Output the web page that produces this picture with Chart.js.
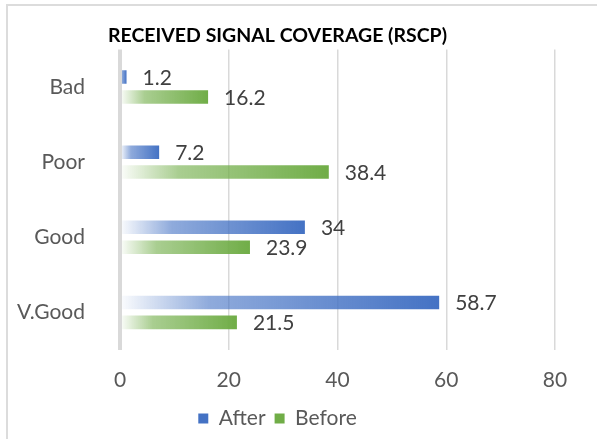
<!DOCTYPE html>
<html>
<head>
<meta charset="utf-8">
<script src="https://cdn.jsdelivr.net/npm/chart.js@4/dist/chart.umd.min.js"></script>
<style>
  html, body { margin: 0; padding: 0; background: #fff; }
  #wrap { position: relative; width: 597px; height: 439px; overflow: hidden; }
  #frame { position: absolute; left: 6px; top: 4px; width: 620px; height: 460px;
           border-left: 2px solid #dcdcdc; border-top: 2px solid #dcdcdc; }
  #c { position: absolute; left: 0; top: 0; }
</style>
</head>
<body>
<div id="wrap">
  <div id="frame"></div>
  <canvas id="c" width="597" height="439"></canvas>
</div>
<script>
const titleText = 'RECEIVED SIGNAL COVERAGE (RSCP)';
const categories = ['Bad', 'Poor', 'Good', 'V.Good'];
const afterValues = [1.2, 7.2, 34, 58.7];
const beforeValues = [16.2, 38.4, 23.9, 21.5];
const seriesNames = ['After', 'Before'];
const xTicks = [0, 20, 40, 60, 80];

const FONT = 'Lato, "Open Sans", "Liberation Sans", sans-serif';
const FS = 21;

function gradFill(rgb) {
  return function(ctx) {
    const solid = 'rgb(' + rgb + ')';
    if (ctx.type !== 'data') return solid;
    const chart = ctx.chart;
    if (!chart.chartArea || !chart.scales.x) return solid;
    const x0 = chart.scales.x.getPixelForValue(0);
    const x1 = chart.scales.x.getPixelForValue(ctx.raw);
    if (!isFinite(x0) || !isFinite(x1) || x1 - x0 < 1) return solid;
    const g = chart.ctx.createLinearGradient(x0, 0, x1, 0);
    g.addColorStop(0, 'rgba(' + rgb + ',0.02)');
    g.addColorStop(0.28, 'rgba(' + rgb + ',0.6)');
    g.addColorStop(1, 'rgba(' + rgb + ',1)');
    return g;
  };
}

const valueLabels = {
  id: 'valueLabels',
  afterDatasetsDraw(chart) {
    const ctx = chart.ctx;
    ctx.save();
    ctx.font = FS + 'px ' + FONT;
    ctx.fillStyle = '#404040';
    ctx.textBaseline = 'middle';
    ctx.textAlign = 'left';
    chart.data.datasets.forEach((ds, di) => {
      const meta = chart.getDatasetMeta(di);
      meta.data.forEach((el, i) => {
        ctx.fillText(String(ds.data[i]), el.x + 16, el.y + 1);
      });
    });
    ctx.restore();
  }
};

new Chart(document.getElementById('c'), {
  type: 'bar',
  data: {
    labels: categories,
    datasets: [
      { label: seriesNames[0], data: afterValues, backgroundColor: gradFill('68,114,196'),
        categoryPercentage: 0.53, barPercentage: 0.68 },
      { label: seriesNames[1], data: beforeValues, backgroundColor: gradFill('112,173,71'),
        categoryPercentage: 0.53, barPercentage: 0.68 }
    ]
  },
  options: {
    indexAxis: 'y',
    responsive: false,
    animation: false,
    devicePixelRatio: 1,
    layout: { padding: { left: 0, right: 42, top: 0, bottom: 0 } },
    scales: {
      x: {
        min: 0, max: 80,
        afterBuildTicks(scale) { scale.ticks = xTicks.map(v => ({ value: v })); },
        afterFit(scale) { scale.height = 49; },
        grid: {
          color: '#d9d9d9',
          lineWidth: (c) => c.tick && c.tick.value === 0 ? 4 : 1.5,
          drawTicks: false
        },
        border: { display: false },
        ticks: { padding: 18, color: '#595959', font: { family: FONT, size: FS } }
      },
      y: {
        afterFit(scale) { scale.width = 120; },
        grid: { display: false },
        border: { display: false },
        ticks: { padding: 27, color: '#595959', font: { family: FONT, size: FS } }
      }
    },
    plugins: {
      title: {
        display: true, text: titleText, color: '#000',
        font: { family: FONT, size: 19.5, weight: 'bold' },
        padding: { top: 24, bottom: 2 }
      },
      legend: {
        position: 'bottom',
        labels: {
          color: '#595959', font: { family: FONT, size: FS },
          boxWidth: 10, boxHeight: 10, padding: 9
        }
      },
      tooltip: { enabled: false }
    }
  },
  plugins: [valueLabels]
});
</script>
</body>
</html>
